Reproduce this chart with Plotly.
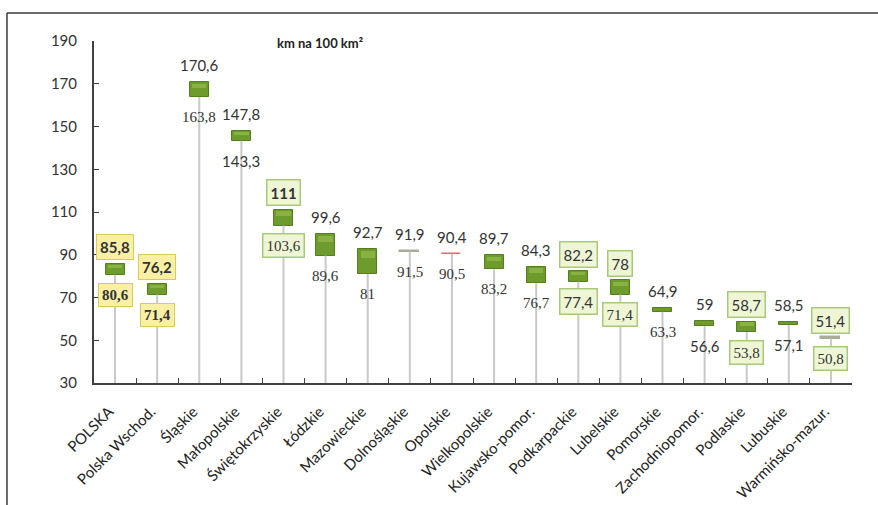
import plotly.graph_objects as go

# Road density by voivodeship, km per 100 km2 (earlier vs later year)
regions = ["POLSKA", "Polska Wschod.", "Śląskie", "Małopolskie", "Świętokrzyskie",
           "Łódzkie", "Mazowieckie", "Dolnośląskie", "Opolskie", "Wielkopolskie",
           "Kujawsko-pomor.", "Podkarpackie", "Lubelskie", "Pomorskie",
           "Zachodniopomor.", "Podlaskie", "Lubuskie", "Warmińsko-mazur."]
later = [85.8, 76.2, 170.6, 147.8, 111, 99.6, 92.7, 91.9, 90.4, 89.7,
         84.3, 82.2, 78, 64.9, 59, 58.7, 58.5, 51.4]
earlier = [80.6, 71.4, 163.8, 143.3, 103.6, 89.6, 81, 91.5, 90.5, 83.2,
           76.7, 77.4, 71.4, 63.3, 56.6, 53.8, 57.1, 50.8]

# label box style per region: "pl" = national aggregates, "east" = eastern regions
highlight = ["pl", "pl", "", "", "east", "", "", "", "", "",
             "", "east", "east", "", "", "east", "", "east"]
# regions whose lower label is set in sans instead of serif
sans_lower = {"Małopolskie", "Podkarpackie", "Zachodniopomor.", "Lubuskie"}

Y_MIN, Y_MAX = 30, 190

def fmt(v):
    s = f"{v:.1f}".rstrip("0").rstrip(".")
    return s.replace(".", ",")

fig = go.Figure()

# drop lines from the axis up to the bottom of each bar
xs, ys = [], []
for r, a, b in zip(regions, later, earlier):
    xs += [r, r, None]
    ys += [Y_MIN, min(a, b), None]
fig.add_trace(go.Scatter(x=xs, y=ys, mode="lines",
                         line=dict(color="#c9c9c9", width=2),
                         hoverinfo="skip", showlegend=False))

# up/down bars between the two years
bases = [min(a, b) for a, b in zip(later, earlier)]
heights = [abs(a - b) for a, b in zip(later, earlier)]
fills, edges, edge_w = [], [], []
for a, b in zip(later, earlier):
    if a < b:
        fills.append("#e46a6a"); edges.append("#e46a6a"); edge_w.append(1.5)
    elif a - b < 1:
        fills.append("#a9ad96"); edges.append("#a9ad96"); edge_w.append(1.5)
    else:
        fills.append("#6e9c2c"); edges.append("#557f1f"); edge_w.append(1)
fig.add_trace(go.Bar(x=regions, y=heights, base=bases, width=0.45,
                     marker=dict(color=fills, line=dict(color=edges, width=edge_w)),
                     hoverinfo="skip", showlegend=False))

# soft highlight on the top of the taller bars
hl_base = [max(a, b) - h * 0.38 if h >= 3 else None
           for a, b, h in zip(later, earlier, heights)]
hl_h = [h * 0.3 if h >= 3 else None for h in heights]
fig.add_trace(go.Bar(x=regions, y=hl_h, base=hl_base, width=0.34,
                     marker=dict(color="rgba(165,200,90,0.5)", line=dict(width=0)),
                     hoverinfo="skip", showlegend=False))

SANS = "Lato"
SERIF = "Liberation Serif"
TXT = "#333333"

annotations = []
for r, a, b, hl in zip(regions, later, earlier, highlight):
    top_kw = dict(x=r, y=max(a, b), yshift=17, showarrow=False, yanchor="middle",
                  text=fmt(a), font=dict(family=SANS, size=15, color=TXT))
    low_font = SANS if r in sans_lower else SERIF
    bot_kw = dict(x=r, y=min(a, b), yshift=-20, showarrow=False, yanchor="middle",
                  text=fmt(b), font=dict(family=low_font, size=15, color=TXT))
    if hl == "pl":
        for kw in (top_kw, bot_kw):
            kw.update(bgcolor="#f9f0a6", bordercolor="#dccb52", borderwidth=1,
                      borderpad=3)
            kw["text"] = "<b>" + kw["text"] + "</b>"
        bot_kw["font"]["family"] = SERIF
    elif hl == "east":
        for kw in (top_kw, bot_kw):
            kw.update(bgcolor="#eef6d6", bordercolor="#a9c97c", borderwidth=1.5,
                      borderpad=3)
        if r == "Świętokrzyskie":
            top_kw["text"] = "<b>" + top_kw["text"] + "</b>"
    annotations += [top_kw, bot_kw]

annotations.append(dict(xref="paper", yref="paper", x=0.239, y=0.994,
                        xanchor="left", yanchor="middle",
                        text="<b>km na 100 km²</b>", showarrow=False,
                        font=dict(family=SANS, size=13, color="#222222")))

# outer frame (top and left edges)
fx, fy = -0.1148, 1.0819
shapes = [
    dict(type="line", xref="paper", yref="paper", x0=fx, y0=fy, x1=1.1, y1=fy,
         line=dict(color="#3a3a3a", width=1.5)),
    dict(type="line", xref="paper", yref="paper", x0=fx, y0=fy, x1=fx, y1=-0.5,
         line=dict(color="#3a3a3a", width=1.5)),
]

fig.update_layout(
    width=878, height=505,
    margin=dict(l=94, r=26, t=41, b=122),
    paper_bgcolor="white", plot_bgcolor="white",
    barmode="overlay", bargap=0,
    annotations=annotations, shapes=shapes,
    xaxis=dict(type="category", categoryorder="array", categoryarray=regions,
               tickangle=-45, ticks="inside", tickson="boundaries", ticklen=5,
               tickcolor="#404040", showline=True, linecolor="#404040",
               linewidth=2, showgrid=False, zeroline=False, ticklabelstandoff=12,
               ticklabelshift=-6, automargin=False,
               tickfont=dict(family=SANS, size=15, color="#222222")),
    yaxis=dict(range=[Y_MIN, Y_MAX], tickvals=list(range(30, 191, 20)),
               ticks="inside", ticklen=5, tickcolor="#404040",
               showline=True, linecolor="#404040", linewidth=2,
               showgrid=False, zeroline=False, ticklabelstandoff=12,
               automargin=False,
               tickfont=dict(family=SANS, size=15, color="#333333")),
)

fig.write_html("out.html")
